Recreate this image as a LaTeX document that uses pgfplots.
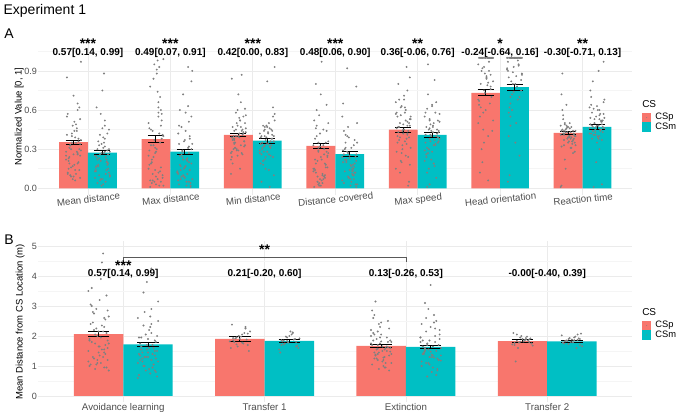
\documentclass[border=0pt]{standalone}
\usepackage{pgfplots}
\usepackage{pgfplotstable}
\pgfplotsset{compat=1.18}
\usepackage{fontspec}
\setmainfont{Liberation Sans}

\definecolor{csp}{HTML}{F8766D}
\definecolor{csm}{HTML}{00BFC4}
\definecolor{gridmaj}{HTML}{EBEBEB}
\definecolor{gridmin}{HTML}{F5F5F5}
\definecolor{ticktext}{HTML}{4D4D4D}
\definecolor{dot}{HTML}{808080}

% Panel A: group means and standard errors (normalized measures)
\pgfplotstableread{
x  p     pe    m     me
1  0.353 0.015 0.274 0.015
2  0.376 0.026 0.281 0.020
3  0.409 0.015 0.366 0.019
4  0.325 0.020 0.261 0.019
5  0.450 0.019 0.409 0.018
6  0.731 0.023 0.775 0.023
7  0.424 0.015 0.470 0.022
}\barsA

% Panel B: mean distance from CS location per phase (m)
\pgfplotstableread{
x  p    pe    m    me
1  2.06 0.083 1.72 0.078
2  1.90 0.078 1.84 0.050
3  1.67 0.060 1.64 0.060
4  1.83 0.055 1.82 0.045
}\barsB

% Individual observations, one series per row (dx = horizontal jitter)
\pgfplotstableread[header=false]{
dxa -0.07 0.03 0.08 -0.02 0.05 -0.08 0.01 -0.05 0.07 -0.03 0.04 -0.09 0.06 0.00 -0.06 0.09 -0.01 0.02 -0.04 0.08 -0.07 0.05 -0.02 0.03 -0.08 0.06 -0.05 0.01 0.07 -0.03 0.04 -0.06 0.09 -0.01 0.02 -0.09 0.05 -0.04 0.08 0.00 0.06 -0.04 0.02 -0.08 0.05 -0.01 0.09 -0.06 0.03 -0.03 0.07 -0.07 0.01 0.04 -0.05 0.08 -0.02 0.00 -0.09 0.05
dxb 0.04 -0.06 0.01 0.08 -0.03 0.06 -0.09 0.02 -0.05 0.07 -0.01 0.03 -0.07 0.09 -0.04 0.05 -0.02 -0.08 0.06 0.00 0.03 -0.05 0.08 -0.03 0.01 -0.07 0.07 -0.01 0.04 -0.09 0.02 0.05 -0.06 0.09 -0.02 0.06 -0.08 0.00 -0.04 0.03 -0.05 0.07 -0.02 0.03 -0.08 0.05 0.01 -0.04 0.09 -0.06 0.02 0.06 -0.09 0.00 0.04 -0.03 0.08 -0.07 0.03 -0.01
mdp 0.12 0.35 0.08 0.42 0.27 0.55 0.18 0.31 0.62 0.09 0.44 0.22 0.38 0.71 0.15 0.29 0.48 0.06 0.33 0.25 0.57 0.19 0.40 0.11 0.85 0.36 0.24 0.51 0.14 0.30 0.46 0.21 0.97 0.17 0.39 0.28 0.65 0.10 0.34 0.26 0.20 0.33 0.14 0.41 0.26 0.07 0.37 0.23 0.49 0.16 0.30 0.11 0.44 0.28 0.19 0.53 0.35 0.09 0.25 0.60
mdm 0.05 0.22 0.31 0.12 0.41 0.18 0.08 0.27 0.36 0.15 0.02 0.48 0.24 0.10 0.33 0.20 0.57 0.13 0.29 0.07 0.38 0.17 0.45 0.26 0.03 0.62 0.19 0.34 0.11 0.25 0.88 0.14 0.30 0.09 0.21 0.42 0.16 0.75 0.23 0.28 0.18 0.26 0.07 0.32 0.14 0.22 0.39 0.10 0.28 0.04 0.35 0.20 0.13 0.46 0.24 0.06 0.30 0.17 0.52 0.27
xdp 0.02 0.45 0.91 0.08 0.33 0.60 0.15 0.98 0.04 0.52 0.27 0.12 0.78 0.40 0.06 0.35 0.95 0.18 0.48 0.03 0.66 0.22 0.10 0.84 0.30 0.01 0.57 0.14 0.42 0.25 0.07 0.70 0.19 0.99 0.37 0.05 0.46 0.28 0.11 0.55 0.20 0.38 0.05 0.62 0.29 0.13 0.88 0.44 0.02 0.33 0.74 0.16 0.50 0.09 0.93 0.24 0.41 0.06 0.58 0.31
xdm 0.03 0.21 0.55 0.10 0.32 0.06 0.44 0.17 0.01 0.28 0.63 0.12 0.38 0.08 0.25 0.90 0.15 0.02 0.47 0.19 0.34 0.05 0.72 0.23 0.11 0.40 0.14 0.58 0.04 0.29 0.93 0.18 0.07 0.36 0.22 0.13 0.51 0.09 0.30 0.16 0.14 0.26 0.05 0.42 0.20 0.09 0.34 0.60 0.11 0.24 0.02 0.48 0.17 0.31 0.07 0.82 0.22 0.37 0.12 0.27
mnp 0.32 0.45 0.28 0.52 0.38 0.61 0.25 0.41 0.19 0.47 0.35 0.56 0.30 0.72 0.43 0.22 0.39 0.50 0.27 0.84 0.36 0.44 0.15 0.58 0.33 0.40 0.26 0.48 0.37 0.66 0.31 0.42 0.11 0.54 0.29 0.46 0.34 0.87 0.24 0.40 0.38 0.44 0.30 0.50 0.35 0.42 0.27 0.55 0.40 0.33 0.47 0.36 0.60 0.31 0.45 0.39 0.52 0.29 0.43 0.37
mnm 0.28 0.41 0.35 0.19 0.46 0.31 0.52 0.24 0.38 0.05 0.43 0.33 0.62 0.27 0.36 0.48 0.14 0.40 0.30 0.82 0.22 0.45 0.34 0.01 0.39 0.55 0.26 0.42 0.32 0.93 0.37 0.18 0.44 0.29 0.50 0.35 0.10 0.47 0.25 0.40 0.33 0.40 0.26 0.45 0.36 0.21 0.48 0.31 0.42 0.38 0.15 0.35 0.57 0.28 0.44 0.32 0.39 0.24 0.47 0.34
dcp 0.05 0.18 0.32 0.01 0.45 0.12 0.27 0.56 0.08 0.38 0.22 0.03 0.64 0.15 0.30 0.48 0.10 0.25 0.80 0.02 0.35 0.19 0.52 0.07 0.42 0.28 0.14 0.97 0.21 0.36 0.04 0.60 0.16 0.33 0.11 0.46 0.24 0.72 0.09 0.29 0.10 0.22 0.04 0.31 0.16 0.40 0.07 0.26 0.13 0.35 0.02 0.19 0.50 0.24 0.09 0.33 0.15 0.44 0.28 0.06
dcm 0.04 0.15 0.26 0.09 0.33 0.20 0.02 0.41 0.12 0.28 0.18 0.06 0.37 0.23 0.13 0.50 0.08 0.31 0.21 0.01 0.44 0.16 0.27 0.11 0.65 0.19 0.35 0.07 0.24 0.92 0.14 0.30 0.03 0.39 0.17 0.55 0.10 0.22 0.78 0.25 0.12 0.20 0.05 0.29 0.16 0.08 0.35 0.22 0.13 0.40 0.03 0.26 0.18 0.10 0.31 0.21 0.47 0.14 0.24 0.07
msp 0.35 0.52 0.18 0.63 0.42 0.28 0.71 0.47 0.05 0.56 0.38 0.66 0.24 0.49 0.80 0.31 0.44 0.58 0.12 0.53 0.40 0.75 0.27 0.60 0.46 0.02 0.37 0.68 0.50 0.21 0.93 0.43 0.55 0.33 0.62 0.15 0.48 0.39 0.85 0.45 0.44 0.50 0.36 0.58 0.41 0.30 0.53 0.47 0.25 0.62 0.39 0.55 0.45 0.34 0.68 0.48 0.20 0.42 0.57 0.51
msm 0.30 0.45 0.22 0.58 0.37 0.12 0.51 0.41 0.66 0.26 0.48 0.03 0.39 0.55 0.33 0.72 0.19 0.43 0.61 0.28 0.46 0.08 0.35 0.83 0.40 0.52 0.24 0.47 0.15 0.57 0.36 0.95 0.42 0.29 0.50 0.01 0.44 0.63 0.34 0.38 0.40 0.47 0.33 0.53 0.36 0.27 0.44 0.58 0.21 0.42 0.49 0.31 0.38 0.64 0.45 0.17 0.41 0.35 0.52 0.43
hop 1.00 0.62 0.85 1.00 0.45 0.78 0.95 1.00 0.30 0.70 0.88 1.00 0.55 0.82 0.20 1.00 0.93 0.67 0.76 1.00 0.40 0.90 1.00 0.58 0.84 0.12 1.00 0.73 0.97 0.50 1.00 0.65 0.80 1.00 0.35 0.87 1.00 0.60 0.92 0.06 1.00 1.00 0.75 1.00 0.64 1.00 0.86 1.00 0.52 1.00 0.79 1.00 0.68 1.00 0.90 1.00 0.44 1.00 0.81 1.00
hom 1.00 0.72 0.90 1.00 0.55 0.83 1.00 0.95 0.40 0.78 1.00 0.88 0.62 1.00 0.25 0.92 0.80 1.00 0.68 0.97 1.00 0.48 0.86 1.00 0.75 0.10 1.00 0.93 0.58 1.00 0.82 0.70 1.00 0.35 0.89 1.00 0.65 0.98 0.05 1.00 1.00 1.00 0.80 1.00 0.70 1.00 0.91 1.00 0.60 1.00 0.85 1.00 0.74 1.00 0.94 1.00 0.50 1.00 0.87 1.00
rtp 0.38 0.45 0.32 0.50 0.41 0.28 0.47 0.36 0.60 0.43 0.22 0.40 0.53 0.35 0.44 0.01 0.39 0.48 0.31 0.72 0.42 0.37 0.46 0.15 0.40 0.56 0.34 0.43 0.88 0.38 0.49 0.27 0.41 0.36 0.64 0.44 0.33 0.47 0.02 0.39 0.42 0.39 0.46 0.35 0.44 0.40 0.48 0.37 0.43 0.31 0.45 0.41 0.38 0.50 0.36 0.44 0.40 0.47 0.33 0.42
rtm 0.45 0.58 0.40 0.66 0.50 0.37 0.62 0.48 0.82 0.43 0.55 0.30 0.70 0.46 0.01 0.52 0.41 0.75 0.49 0.35 0.60 0.44 0.97 0.53 0.39 0.64 0.47 0.20 0.57 0.42 0.90 0.51 0.38 0.68 0.45 0.03 0.54 0.48 0.61 0.40 0.47 0.52 0.43 0.56 0.49 0.45 0.60 0.41 0.54 0.48 0.38 0.51 0.46 0.63 0.44 0.50 0.57 0.42 0.53 0.47
}\rawA
\pgfplotstabletranspose[colnames from=0]\jitA\rawA

\pgfplotstableread[header=false]{
dxa -0.07 0.03 0.08 -0.02 0.05 -0.08 0.01 -0.05 0.07 -0.03 0.04 -0.09 0.06 0.00 -0.06 0.09 -0.01 0.02 -0.04 0.08 -0.07 0.05 -0.02 0.03 -0.08 0.06 -0.05 0.01 0.07 -0.03 0.04 -0.06 0.09 -0.01 0.02 -0.09 0.05 -0.04 0.08 0.00 0.06 -0.04 0.02 -0.08 0.05 -0.01 0.09 -0.06 0.03 -0.03 0.07 -0.07 0.01 0.04 -0.05 0.08 -0.02 0.00 -0.09 0.05
dxb 0.04 -0.06 0.01 0.08 -0.03 0.06 -0.09 0.02 -0.05 0.07 -0.01 0.03 -0.07 0.09 -0.04 0.05 -0.02 -0.08 0.06 0.00 0.03 -0.05 0.08 -0.03 0.01 -0.07 0.07 -0.01 0.04 -0.09 0.02 0.05 -0.06 0.09 -0.02 0.06 -0.08 0.00 -0.04 0.03 -0.05 0.07 -0.02 0.03 -0.08 0.05 0.01 -0.04 0.09 -0.06 0.02 0.06 -0.09 0.00 0.04 -0.03 0.08 -0.07 0.03 -0.01
alp 1.05 2.35 1.60 2.90 0.95 1.85 3.20 1.30 2.10 1.75 4.75 1.15 2.55 1.45 3.60 0.85 2.00 1.95 2.75 1.20 3.05 1.55 2.25 4.45 1.00 1.70 2.45 1.35 3.35 0.90 2.15 1.80 2.65 1.10 3.90 1.50 2.30 1.25 2.85 1.65 1.40 2.20 1.10 1.90 2.60 1.20 1.75 3.00 1.55 2.05 0.95 2.40 1.65 1.30 2.80 1.85 1.05 2.15 3.50 1.45
alm 0.95 1.55 2.20 0.65 1.30 1.85 1.10 2.65 1.45 0.80 1.70 2.40 1.20 3.15 1.00 1.60 2.05 0.70 1.35 1.90 4.25 1.15 1.50 2.80 0.90 1.75 1.25 3.80 1.40 0.60 2.30 1.05 1.65 2.50 1.30 0.85 1.95 1.45 3.45 1.20 1.25 1.80 0.85 2.10 1.40 1.05 1.60 2.35 1.15 1.95 0.75 1.50 2.60 1.30 1.70 1.00 2.00 1.35 2.90 1.55
exp 1.25 1.80 2.30 1.05 1.55 2.05 1.40 0.90 1.95 2.60 1.15 1.70 1.35 2.20 1.60 3.15 1.00 1.85 1.45 2.45 1.20 1.65 2.85 1.30 1.75 0.85 2.10 1.50 1.90 1.10 2.40 1.38 1.62 2.00 1.28 2.70 1.48 1.82 0.95 1.58 1.50 1.85 1.20 2.15 1.60 1.35 1.95 1.10 1.75 2.50 1.45 1.25 1.80 2.05 1.55 0.95 1.70 2.25 1.40 1.65
exm 1.20 1.75 2.40 0.95 1.50 2.05 1.30 0.70 1.85 2.70 1.10 1.60 1.40 3.70 1.25 1.95 0.80 1.55 2.25 1.15 1.70 3.10 1.35 0.65 1.90 1.45 2.50 1.05 1.65 1.28 2.15 0.90 1.80 1.38 2.90 1.18 1.58 2.00 1.00 1.48 1.45 1.80 1.10 2.20 1.55 1.30 1.95 0.85 1.70 2.45 1.40 1.20 1.85 2.60 1.50 1.00 1.65 2.30 1.35 1.60
}\rawB
\pgfplotstabletranspose[colnames from=0]\jitB\rawB

\pgfplotstableread[header=false]{
dxt -0.06 0.02 0.07 -0.03 0.05 -0.08 0.00 0.04 -0.05 0.08 -0.01 0.06 -0.07 0.03 -0.04 0.09 -0.02 0.01 -0.09 0.05 -0.03 0.07 -0.06 0.02
t1p 1.85 2.05 1.70 1.95 2.25 1.60 1.90 2.10 1.80 1.50 2.00 1.88 2.38 1.75 1.92 2.15 1.65 1.98 1.82 2.30 1.72 2.08 1.93 1.78
t1m 1.80 1.95 1.70 2.10 1.85 1.60 2.00 1.75 1.90 1.45 2.15 1.82 1.68 1.98 1.88 1.55 2.05 1.78 1.92 1.72 2.12 1.86 1.65 1.83
t2p 1.80 1.95 1.70 1.88 2.05 1.75 1.90 1.60 1.85 2.10 1.82 1.15 1.92 1.78 1.98 1.72 1.86 2.00 1.68 1.84 1.93 1.77 1.89 1.81
t2m 1.82 1.95 1.70 1.90 2.05 1.78 1.88 1.60 1.85 2.08 1.80 1.92 1.75 1.98 1.84 1.66 1.93 1.79 2.02 1.87 1.73 1.90 1.83 1.86
}\rawT
\pgfplotstabletranspose[colnames from=0]\jitT\rawT

\pgfplotsset{
  panel/.style={
    scale only axis, width=445.125pt, anchor=south west,
    xmin=0.4, clip=false,
    axis line style={draw=none}, tick style={draw=none},
    major tick length=0pt, minor tick length=0pt,
    grid=both,
    major grid style={gridmaj, line width=0.55pt},
    minor grid style={gridmin, line width=0.35pt},
    /pgf/number format/assume math mode=true,
    xticklabel style={font=\fontsize{7.3}{8}\selectfont, color=ticktext},
    yticklabel style={font=\fontsize{6.8}{8}\selectfont, color=ticktext, inner sep=1pt},
    legend cell align=left,
    legend style={draw=none, fill=none, inner sep=0pt, outer sep=0pt,
      row sep=0pt, column sep=3pt, anchor=north west,
      font=\fontsize{7}{8}\selectfont, nodes={inner sep=0pt}},
  },
  pts/.style={forget plot, only marks, mark=*, mark size=0.5pt, color=dot,
    mark options={draw=none, fill=dot, fill opacity=0.6}},
  bar/.style={ybar, bar width=0.35, bar shift=0pt, draw=none, fill=#1,
    legend image code/.code={\fill[#1] (0pt,-3.5pt) rectangle (7pt,3.5pt);
      \fill[dot] (3.5pt,0pt) circle (0.4pt);}},
  err/.style={forget plot, mark=none, draw=none,
    error bars/y dir=both, error bars/y explicit,
    error bars/error bar style={draw=black, line width=0.7pt},
    error bars/error mark options={rotate=90, draw=black, line width=0.7pt, mark size=#1}},
}
\tikzset{
  anno/.style={font=\bfseries\fontsize{7.5}{9}\selectfont, inner sep=0pt},
  star/.style={font=\bfseries\fontsize{10.5}{12}\selectfont, inner sep=0pt},
}
% #1 table, #2 bar centre, #3 jitter column, #4 value column, #5 jitter scale
\newcommand\jit[5]{\addplot[pts] table[x expr={#2+#5*\thisrow{#3}}, y=#4]{#1};}

\begin{document}
\begin{tikzpicture}
\useasboundingbox (0,0) rectangle (508.5pt,312.75pt);

\node[anchor=west, font=\fontsize{10.5}{12}\selectfont, inner sep=0pt] at (2.5pt,304.7pt) {Experiment 1};
\node[anchor=west, font=\fontsize{10.5}{12}\selectfont, inner sep=0pt] at (3pt,287.2pt) {A};
\node[anchor=west, font=\fontsize{10.5}{12}\selectfont, inner sep=0pt] at (3pt,132.75pt) {B};
\node[rotate=90, font=\fontsize{7.1}{8}\selectfont, inner sep=0pt] at (14.4pt,225.4pt) {Normalized Value [0, 1]};
\node[rotate=90, font=\fontsize{7.1}{8}\selectfont, inner sep=0pt] at (15.2pt,71.25pt) {Mean Distance from CS Location (m)};
\node[anchor=west, font=\fontsize{7.5}{9}\selectfont, inner sep=0pt] at (481.5pt,234.75pt) {CS};
\node[anchor=west, font=\fontsize{7.5}{9}\selectfont, inner sep=0pt] at (481.5pt,79pt) {CS};

% ---------------- Panel A ----------------
\begin{axis}[panel, at={(28.875pt,166.65pt)}, height=117.375pt,
  xmax=7.6, ymin=-0.05, ymax=1.15,
  xtick={1,...,7},
  xticklabels={Mean distance, Max distance, Min distance, Distance covered, Max speed, Head orientation, Reaction time},
  xticklabel style={rotate=6, anchor=north, inner sep=0.5pt},
  ytick={0,0.3,0.6,0.9}, minor ytick={0.15,0.45,0.75,1.05},
  yticklabel style={/pgf/number format/.cd, fixed, fixed zerofill, precision=1},
  legend style={at={(1.0169,0.5227)}}]
\addplot[bar=csp] table[x expr={\thisrow{x}-0.175}, y=p]{\barsA};
\addlegendentry{CSp}
\addplot[bar=csm] table[x expr={\thisrow{x}+0.175}, y=m]{\barsA};
\addlegendentry{CSm}

\jit{\jitA}{1-0.175}{dxa}{mdp}{1}
\jit{\jitA}{1+0.175}{dxb}{mdm}{1}
\jit{\jitA}{2-0.175}{dxb}{xdp}{1}
\jit{\jitA}{2+0.175}{dxa}{xdm}{1}
\jit{\jitA}{3-0.175}{dxa}{mnp}{-1}
\jit{\jitA}{3+0.175}{dxb}{mnm}{-1}
\jit{\jitA}{4-0.175}{dxb}{dcp}{-1}
\jit{\jitA}{4+0.175}{dxa}{dcm}{1}
\jit{\jitA}{5-0.175}{dxa}{msp}{1}
\jit{\jitA}{5+0.175}{dxb}{msm}{-1}
\jit{\jitA}{6-0.175}{dxb}{hop}{1}
\jit{\jitA}{6+0.175}{dxa}{hom}{-1}
\jit{\jitA}{7-0.175}{dxa}{rtp}{-1}
\jit{\jitA}{7+0.175}{dxb}{rtm}{1}

\addplot[err=6pt] table[x expr={\thisrow{x}-0.175}, y=p, y error=pe]{\barsA};
\addplot[err=6pt] table[x expr={\thisrow{x}+0.175}, y=m, y error=me]{\barsA};

\node[anno] at (axis cs:1,1.04) {0.57[0.14, 0.99]};
\node[anno] at (axis cs:2,1.04) {0.49[0.07, 0.91]};
\node[anno] at (axis cs:3,1.04) {0.42[0.00, 0.83]};
\node[anno] at (axis cs:4,1.04) {0.48[0.06, 0.90]};
\node[anno] at (axis cs:5,1.04) {0.36[-0.06, 0.76]};
\node[anno] at (axis cs:6,1.04) {-0.24[-0.64, 0.16]};
\node[anno] at (axis cs:7,1.04) {-0.30[-0.71, 0.13]};
\node[star] at (axis cs:1,1.107) {***};
\node[star] at (axis cs:2,1.107) {***};
\node[star] at (axis cs:3,1.107) {***};
\node[star] at (axis cs:4,1.107) {***};
\node[star] at (axis cs:5,1.107) {**};
\node[star] at (axis cs:6,1.107) {*};
\node[star] at (axis cs:7,1.107) {**};
\end{axis}

% ---------------- Panel B ----------------
\begin{axis}[panel, at={(28.875pt,11.25pt)}, height=120.375pt,
  xmax=4.6, ymin=-0.2, ymax=5.15,
  xtick={1,...,4},
  xticklabels={Avoidance learning, Transfer 1, Extinction, Transfer 2},
  xticklabel style={anchor=north, inner sep=1.2pt},
  ytick={0,...,5}, minor ytick={0.5,1.5,...,4.5},
  legend style={at={(1.0169,0.5047)}}]
\addplot[bar=csp] table[x expr={\thisrow{x}-0.175}, y=p]{\barsB};
\addlegendentry{CSp}
\addplot[bar=csm] table[x expr={\thisrow{x}+0.175}, y=m]{\barsB};
\addlegendentry{CSm}

\jit{\jitB}{1-0.175}{dxa}{alp}{0.8}
\jit{\jitB}{1+0.175}{dxb}{alm}{0.8}
\jit{\jitT}{2-0.175}{dxt}{t1p}{0.8}
\jit{\jitT}{2+0.175}{dxt}{t1m}{-0.8}
\jit{\jitB}{3-0.175}{dxb}{exp}{-0.8}
\jit{\jitB}{3+0.175}{dxa}{exm}{-0.8}
\jit{\jitT}{4-0.175}{dxt}{t2p}{-0.8}
\jit{\jitT}{4+0.175}{dxt}{t2m}{0.8}

\addplot[err=8.1pt] table[x expr={\thisrow{x}-0.175}, y=p, y error=pe]{\barsB};
\addplot[err=8.1pt] table[x expr={\thisrow{x}+0.175}, y=m, y error=me]{\barsB};

\draw[black!65, line width=0.6pt] (axis cs:1,4.48) -- (axis cs:1,4.62) -- (axis cs:3,4.62) -- (axis cs:3,4.48);
\node[star] at (axis cs:2,4.88) {**};
\node[star] at (axis cs:1,4.36) {***};
\node[anno] at (axis cs:1,4.07) {0.57[0.14, 0.99]};
\node[anno] at (axis cs:2,4.07) {0.21[-0.20, 0.60]};
\node[anno] at (axis cs:3,4.07) {0.13[-0.26, 0.53]};
\node[anno] at (axis cs:4,4.07) {-0.00[-0.40, 0.39]};
\end{axis}
\end{tikzpicture}
\end{document}
